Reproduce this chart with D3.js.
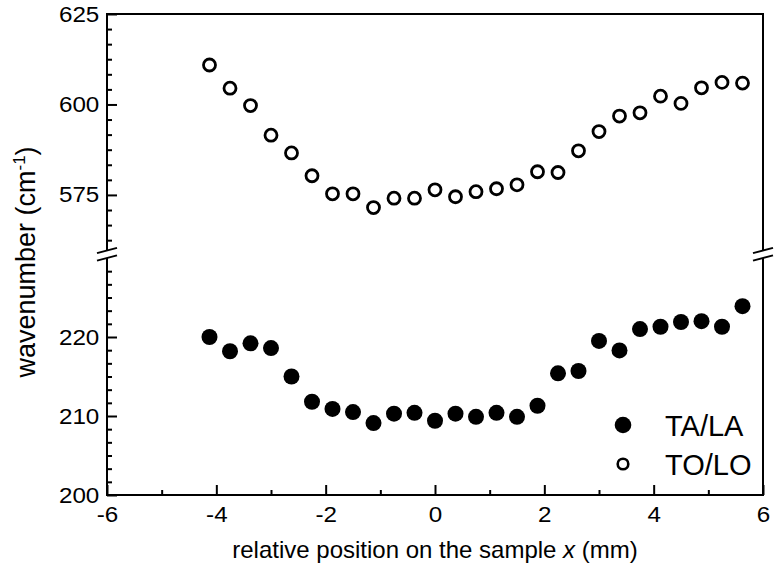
<!DOCTYPE html>
<html>
<head>
<meta charset="utf-8">
<script src="https://cdn.jsdelivr.net/npm/d3@7"></script>
<style>
  html, body { margin: 0; padding: 0; background: #fff; }
  svg { display: block; }
  text { font-family: "Liberation Sans", Arial, Helvetica, sans-serif; fill: #000; }
</style>
</head>
<body>
<svg id="chart" width="777" height="571"></svg>
<script>
// ---- data ----
const positions = [-4.125, -3.75, -3.375, -3.0, -2.625, -2.25, -1.875, -1.5, -1.125, -0.75, -0.375, 0,
  0.375, 0.75, 1.125, 1.5, 1.875, 2.25, 2.625, 3.0, 3.375, 3.75, 4.125, 4.5, 4.875, 5.25, 5.625];
const taLa = [220.0, 218.2, 219.2, 218.6, 215.0, 211.8, 210.9, 210.5, 209.1, 210.3, 210.4, 209.4,
  210.3, 209.9, 210.4, 209.9, 211.3, 215.4, 215.7, 219.5, 218.3, 221.0, 221.3, 221.9, 222.0, 221.3, 223.9];
const toLo = [610.9, 604.5, 599.7, 591.5, 586.6, 580.3, 575.3, 575.3, 571.5, 574.1, 574.1, 576.4,
  574.5, 575.9, 576.7, 577.8, 581.4, 581.2, 587.2, 592.5, 596.8, 597.7, 602.3, 600.3, 604.6, 606.1, 605.9];
const xTickLabels = [-6, -4, -2, 0, 2, 4, 6];
const yUpperTickLabels = [575, 600, 625];
const yLowerTickLabels = [200, 210, 220];
const seriesNames = ["TA/LA", "TO/LO"];

// ---- layout ----
const svg = d3.select("#chart");
const L = 107, R = 763, T = 14, B = 495;
const upperBottom = 249, lowerTop = 259;
const stretch = 1.1;

const x = d3.scaleLinear().domain([-6, 6]).range([L, R]);
const yU = d3.scaleLinear().domain([560, 625]).range([upperBottom + 0.2, T]);
const yL = d3.scaleLinear().domain([200, 230]).range([B, lowerTop - 1]);

const stroke = 2;

// frame lines
svg.append("line").attr("x1", L).attr("x2", R).attr("y1", T).attr("y2", T)
  .attr("stroke", "#000").attr("stroke-width", stroke).attr("stroke-linecap", "square");
svg.append("line").attr("x1", L).attr("x2", R).attr("y1", B).attr("y2", B)
  .attr("stroke", "#000").attr("stroke-width", stroke).attr("stroke-linecap", "square");
[L, R].forEach(xx => {
  svg.append("line").attr("x1", xx).attr("x2", xx).attr("y1", T).attr("y2", upperBottom)
    .attr("stroke", "#000").attr("stroke-width", stroke).attr("stroke-linecap", "square");
  svg.append("line").attr("x1", xx).attr("x2", xx).attr("y1", lowerTop).attr("y2", B)
    .attr("stroke", "#000").attr("stroke-width", stroke).attr("stroke-linecap", "square");
  // break marks
  [250.5, 258].forEach(yc => {
    svg.append("line").attr("x1", xx - 10).attr("x2", xx + 10)
      .attr("y1", yc + 2.6).attr("y2", yc - 2.6)
      .attr("stroke", "#000").attr("stroke-width", 2);
  });
});

function styleLabels(g) {
  g.selectAll(".tick text").style("font-size", "22px")
    .attr("transform", `scale(${stretch},1)`);
}

// x axis (ticks pointing inward)
const xMinor = d3.range(-5, 6, 2);
const xAxis = d3.axisBottom(x).tickValues(xTickLabels).tickSize(-10).tickPadding(11)
  .tickFormat(d3.format("d"));
const gx = svg.append("g").attr("transform", `translate(0,${B})`).call(xAxis);
gx.select(".domain").remove();
gx.selectAll(".tick line").attr("stroke-width", stroke);
gx.selectAll(".tick text").text(d => d < 0 ? "-" + Math.abs(d) : d);
styleLabels(gx);
const gxm = svg.append("g").attr("transform", `translate(0,${B})`)
  .call(d3.axisBottom(x).tickValues(xMinor).tickSize(-5).tickFormat(""));
gxm.select(".domain").remove();
gxm.selectAll(".tick line").attr("stroke-width", stroke);

// y upper
const uMinor = d3.range(1, 16).filter(k => k % 6 !== 0).map(k => 625 - k * 25 / 6);
const gyu = svg.append("g").attr("transform", `translate(${L},0)`)
  .call(d3.axisLeft(yU).tickValues(yUpperTickLabels).tickSize(-10).tickPadding(7).tickFormat(d3.format("d")));
gyu.select(".domain").remove();
gyu.selectAll(".tick line").attr("stroke-width", stroke);
styleLabels(gyu);
const gyum = svg.append("g").attr("transform", `translate(${L},0)`)
  .call(d3.axisLeft(yU).tickValues(uMinor).tickSize(-5).tickFormat(""));
gyum.select(".domain").remove();
gyum.selectAll(".tick line").attr("stroke-width", stroke);

// y lower
const lMinor = d3.range(1, 18).filter(k => k % 6 !== 0).map(k => 200 + k * 10 / 6);
const gyl = svg.append("g").attr("transform", `translate(${L},0)`)
  .call(d3.axisLeft(yL).tickValues(yLowerTickLabels).tickSize(-10).tickPadding(7).tickFormat(d3.format("d")));
gyl.select(".domain").remove();
gyl.selectAll(".tick line").attr("stroke-width", stroke);
styleLabels(gyl);
const gylm = svg.append("g").attr("transform", `translate(${L},0)`)
  .call(d3.axisLeft(yL).tickValues(lMinor).tickSize(-5).tickFormat(""));
gylm.select(".domain").remove();
gylm.selectAll(".tick line").attr("stroke-width", stroke);

// data
svg.append("g").selectAll("circle").data(positions.map((p, i) => [p, taLa[i]])).join("circle")
  .attr("cx", d => x(d[0])).attr("cy", d => yL(d[1])).attr("r", 8).attr("fill", "#000");
svg.append("g").selectAll("circle").data(positions.map((p, i) => [p, toLo[i]])).join("circle")
  .attr("cx", d => x(d[0])).attr("cy", d => yU(d[1])).attr("r", 6)
  .attr("fill", "#fff").attr("stroke", "#000").attr("stroke-width", 2.8);

// legend
const lg = svg.append("g");
lg.append("circle").attr("cx", 623).attr("cy", 425).attr("r", 8.3).attr("fill", "#000");
lg.append("circle").attr("cx", 623).attr("cy", 464).attr("r", 5.3)
  .attr("fill", "#fff").attr("stroke", "#000").attr("stroke-width", 2.6);
lg.append("text").attr("x", 665).attr("y", 436).style("font-size", "29px").text(seriesNames[0]);
lg.append("text").attr("x", 665).attr("y", 475).style("font-size", "29px").text(seriesNames[1]);

// axis titles
const xt = svg.append("text").attr("x", (L + R) / 2).attr("y", 558)
  .attr("text-anchor", "middle").style("font-size", "24px");
xt.append("tspan").text("relative position on the sample ");
xt.append("tspan").style("font-style", "italic").text("x");
xt.append("tspan").text(" (mm)");

const yt = svg.append("text").attr("transform", `translate(35,262) rotate(-90)`)
  .attr("text-anchor", "middle").style("font-size", "27px");
yt.append("tspan").text("wavenumber (cm");
yt.append("tspan").attr("dy", -10).style("font-size", "17px").text("-1");
yt.append("tspan").attr("dy", 10).text(")");
</script>
</body>
</html>
